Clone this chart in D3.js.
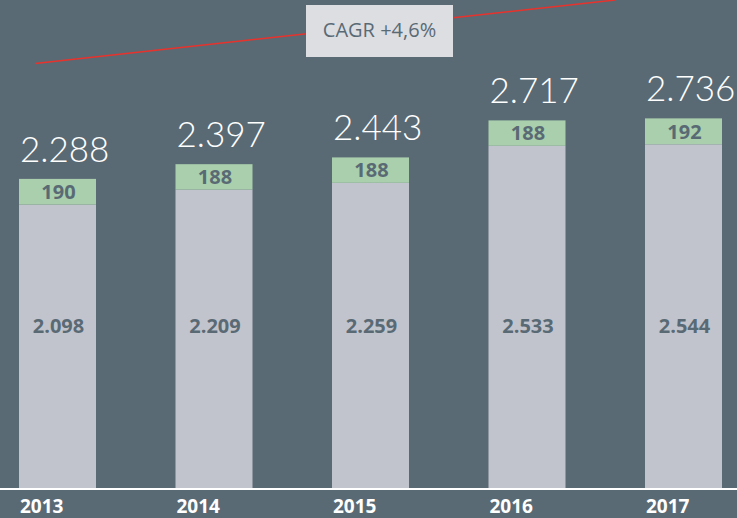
<!DOCTYPE html>
<html>
<head>
<meta charset="utf-8">
<script src="https://cdn.jsdelivr.net/npm/d3@7"></script>
<style>
  html, body { margin: 0; padding: 0; background: #5a6a75; }
  svg { display: block; }
</style>
</head>
<body>
<div id="chart"></div>
<script>
/**
 * DATA
 * */
const years = ["2013", "2014", "2015", "2016", "2017"];
const baseValues = [2098, 2209, 2259, 2533, 2544];
const topValues = [190, 188, 188, 188, 192];
const totals = [2288, 2397, 2443, 2717, 2736];
const cagrLabel = "CAGR +4,6%";
// trend line end values (in chart units)
const trendValues = [3142, 3612];

/**
 * CONSTANTS
 * */
const width = 737,
  height = 518,
  baseline = 488;

const colors = {
  bg: "#5a6a75",
  base: "#c1c4cc",
  top: "#a9cfac",
  label: "#5a6a75",
  box: "#dcdee2",
  trend: "#e8322c",
};

const fmt = d3.formatLocale({ decimal: ",", thousands: ".", grouping: [3], currency: ["", "€"] }).format(",d");

const svg = d3.select("#chart")
  .append("svg")
  .attr("width", width)
  .attr("height", height);

svg.append("rect")
  .attr("width", width)
  .attr("height", height)
  .attr("fill", colors.bg);

const x = d3.scaleBand()
  .domain(years)
  .range([19, 722])
  .paddingInner(0.508)
  .paddingOuter(0);

const y = d3.scaleLinear()
  .domain([0, 3000])
  .range([baseline, baseline - 3000 * 0.1351]);

const rows = years.map((yr, i) => ({
  year: yr,
  base: baseValues[i],
  top: topValues[i],
  total: totals[i],
}));

// bottom (grey) segment
svg.selectAll(".bar-base")
  .data(rows)
  .join("rect")
  .attr("class", "bar-base")
  .attr("x", d => x(d.year))
  .attr("width", x.bandwidth())
  .attr("y", d => y(d.base))
  .attr("height", d => y(0) - y(d.base))
  .attr("fill", colors.base);

// top (green) segment
svg.selectAll(".bar-top")
  .data(rows)
  .join("rect")
  .attr("class", "bar-top")
  .attr("x", d => x(d.year))
  .attr("width", x.bandwidth())
  .attr("y", d => y(d.base + d.top))
  .attr("height", d => y(d.base) - y(d.base + d.top))
  .attr("fill", colors.top);

// baseline
svg.append("rect")
  .attr("x", 0)
  .attr("y", baseline)
  .attr("width", width)
  .attr("height", 2)
  .attr("fill", "#ffffff");

// values inside bars
svg.selectAll(".lbl-base")
  .data(rows)
  .join("text")
  .attr("class", "lbl-base")
  .attr("x", d => x(d.year) + x.bandwidth() / 2 + 1)
  .attr("y", 333)
  .attr("text-anchor", "middle")
  .attr("font-family", "Open Sans")
  .attr("font-weight", 700)
  .attr("font-size", 20)
  .attr("fill", colors.label)
  .text(d => fmt(d.base));

svg.selectAll(".lbl-top")
  .data(rows)
  .join("text")
  .attr("class", "lbl-top")
  .attr("x", d => x(d.year) + x.bandwidth() / 2 + 1)
  .attr("y", d => (y(d.base) + y(d.base + d.top)) / 2)
  .attr("dy", "0.36em")
  .attr("text-anchor", "middle")
  .attr("font-family", "Open Sans")
  .attr("font-weight", 700)
  .attr("font-size", 20)
  .attr("fill", colors.label)
  .text(d => fmt(d.top));

// totals above bars
svg.selectAll(".lbl-total")
  .data(rows)
  .join("text")
  .attr("class", "lbl-total")
  .attr("x", d => x(d.year) + 1)
  .attr("y", d => y(d.base + d.top) - 17)
  .attr("font-family", "Lato")
  .attr("font-weight", 300)
  .attr("font-size", 35)
  .attr("fill", "#ffffff")
  .text(d => fmt(d.total));

// year axis labels
svg.selectAll(".lbl-year")
  .data(rows)
  .join("text")
  .attr("class", "lbl-year")
  .attr("x", d => x(d.year) + 1)
  .attr("y", 513)
  .attr("font-family", "Open Sans")
  .attr("font-weight", 700)
  .attr("font-size", 19)
  .attr("fill", "#ffffff")
  .text(d => d.year);

// CAGR trend line
svg.append("line")
  .attr("x1", x(years[0]) + 16)
  .attr("y1", y(trendValues[0]))
  .attr("x2", x(years[years.length - 1]) - 30)
  .attr("y2", y(trendValues[1]))
  .attr("stroke", colors.trend)
  .attr("stroke-width", 1.5);

// CAGR box
const box = svg.append("g");
box.append("rect")
  .attr("x", 306)
  .attr("y", 5)
  .attr("width", 147)
  .attr("height", 52)
  .attr("fill", colors.box);
box.append("text")
  .attr("x", 306 + 147 / 2)
  .attr("y", 37)
  .attr("text-anchor", "middle")
  .attr("font-family", "Open Sans")
  .attr("font-size", 20)
  .attr("fill", colors.label)
  .text(cagrLabel);
</script>
</body>
</html>
